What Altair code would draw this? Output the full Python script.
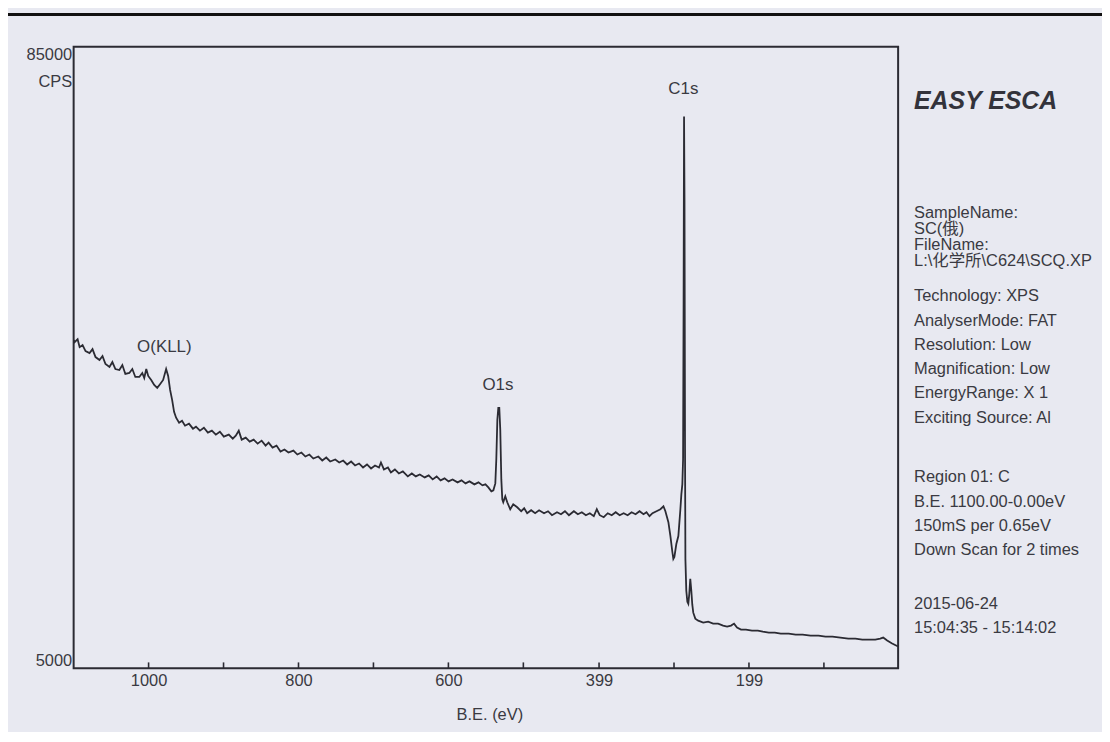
import altair as alt
import pandas as pd

# ---- spectrum (binding energy eV, counts per second) ----
o_kll_region = [
    (1100, 47240), (1098.7, 46984), (1094.7, 47368), (1092.0, 46344), (1088.1, 46600),
    (1084.1, 45832), (1078.8, 45576), (1074.8, 46088), (1070.8, 45064), (1065.5, 44680),
    (1061.5, 45192), (1057.5, 44168), (1052.2, 43784), (1048.3, 44424), (1044.3, 43528),
    (1039.0, 43400), (1035.0, 44040), (1031.0, 42888), (1025.7, 43016), (1021.7, 43528),
    (1017.7, 42504), (1012.4, 42504), (1008.4, 43016), (1005.8, 42376), (1003.1, 43528),
    (1000.5, 42632), (996.5, 42120), (992.5, 41480), (988.5, 41096), (984.5, 41608),
    (980.6, 42120), (976.6, 43528), (973.9, 42632), (971.3, 40840), (968.6, 39560),
    (966.0, 38024), (963.3, 37256), (959.3, 36616), (955.4, 36872), (951.4, 36232),
    (946.1, 36488), (940.8, 35848), (936.8, 36104), (931.5, 35592), (926.2, 35976),
    (920.9, 35336), (915.6, 35592), (910.3, 35080), (904.9, 35464), (899.6, 34824),
    (893.0, 35080), (887.7, 34568), (883.7, 34952), (879.7, 35592), (875.8, 34440),
    (870.4, 34696), (865.1, 34184), (859.8, 34440), (854.5, 33928), (849.2, 34312),
    (843.9, 33672), (839.9, 34056), (834.6, 33416), (829.3, 33672), (824.0, 32904),
    (818.7, 33160), (813.4, 32776), (806.8, 33032), (801.5, 32520), (796.1, 32776),
    (790.8, 32264), (785.5, 32520), (780.2, 32008), (773.6, 32264), (768.3, 31752),
    (763.0, 32136), (757.7, 31624), (751.0, 31880), (745.7, 31496), (740.4, 31752),
    (735.1, 31240), (729.8, 31624), (724.5, 31112), (719.2, 31368), (713.9, 30856),
    (708.6, 31240),
]
mid_region = [
    (703.2, 30728), (697.9, 31112), (692.6, 30856), (690.0, 31496), (686.0, 30600),
    (680.7, 30856), (676.7, 30216), (671.4, 30600), (666.1, 30088), (660.8, 30344),
    (654.2, 29704), (648.8, 30088), (643.5, 29704), (638.2, 29960), (631.6, 29576),
    (626.3, 29832), (621.0, 29320), (615.7, 29704), (610.4, 29192), (605.1, 29448),
    (599.8, 29064), (594.4, 29320), (587.8, 28936), (582.5, 29192), (577.2, 28808),
    (571.9, 29064), (565.3, 28680), (559.9, 28936), (554.6, 28552), (550.6, 28680),
    (546.7, 28296), (542.7, 27784), (540.0, 27912),
]
o1s_region = [
    (537.4, 28808), (536.1, 31880), (534.7, 37000), (533.4, 38536), (532.1, 38536),
    (530.8, 35720), (529.4, 29320), (528.1, 26760), (526.8, 26376), (524.1, 27144),
    (521.5, 26376), (517.5, 25480), (513.5, 26120), (508.2, 25736), (502.9, 25224),
    (498.9, 25608), (494.9, 24968), (489.6, 25352), (484.3, 24968), (479.0, 25352),
    (472.4, 24968), (467.1, 25224), (461.8, 24712), (455.1, 25096), (449.8, 24840),
    (444.5, 25224), (439.2, 24712), (432.6, 25224), (427.3, 24840), (422.0, 25096),
    (416.6, 24712), (411.3, 24968), (406.0, 24584), (402.0, 25480), (398.1, 24712),
    (392.8, 24456), (387.4, 24968), (382.1, 24712), (376.8, 25096), (371.5, 24712),
    (366.2, 24968), (360.9, 24712), (355.6, 25096), (350.3, 24840), (345.0, 25224),
    (339.7, 24840), (335.7, 25096), (331.7, 24584), (327.7, 24968), (322.4, 25224),
    (317.1, 25480), (313.1, 25864), (310.5, 25224),
]
c1s_region = [
    (306.5, 23816), (303.8, 22024), (301.2, 19976), (299.9, 19080), (298.5, 19336),
    (295.9, 21000), (293.2, 22024), (290.5, 25480), (289.2, 27400), (287.9, 28680),
    (286.9, 31880), (286.2, 52360), (285.6, 76040), (285.0, 65160), (284.3, 33160),
    (283.8, 19080), (282.6, 14984), (281.2, 13576), (279.9, 13320), (278.6, 14600),
    (277.3, 16520), (275.9, 14984), (274.6, 13192), (273.3, 12168), (270.6, 11400),
    (266.7, 11144),
]
low_region = [
    (260.0, 10888), (253.4, 11016), (246.8, 10760), (240.2, 10760), (233.5, 10504),
    (228.2, 10376), (222.9, 10504), (218.9, 10760), (214.9, 10248), (209.6, 9992),
    (203.0, 9992), (195.0, 9864), (187.1, 9864), (180.5, 9736), (172.5, 9608),
    (164.5, 9608), (156.6, 9480), (146.0, 9480), (136.7, 9352), (127.4, 9352),
    (116.8, 9224), (106.2, 9224), (96.9, 9096), (87.6, 9096), (77.0, 8968),
    (66.4, 8840), (57.0, 8840), (47.8, 8712), (39.8, 8712), (30.5, 8712),
    (23.9, 8840), (19.9, 8968), (14.6, 8584), (8.0, 8200), (0, 7816),
]

tick_values = [1000, 900, 800, 700, 600, 500, 399, 299, 199, 99]
label_values = [1000, 800, 600, 399, 199]
y_label_values = [5000, 85000]

peak_names = ["O(KLL)", "O1s", "C1s"]
peak_label_ev = [979, 534, 286.5]
peak_label_cps = [46300, 41500, 79500]

info_title = "EASY ESCA"
info_sample = ["SampleName:", "SC(俄)", "FileName:", "L:\\化学所\\C624\\SCQ.XP"]
info_setup = ["Technology: XPS", "AnalyserMode: FAT", "Resolution: Low",
              "Magnification: Low", "EnergyRange: X 1", "Exciting Source: Al"]
info_region = ["Region 01: C", "B.E. 1100.00-0.00eV", "150mS per 0.65eV",
               "Down Scan for 2 times"]
info_date = ["2015-06-24", "15:04:35 - 15:14:02"]

# ---- build tables ----
points = o_kll_region + mid_region + o1s_region + c1s_region + low_region
spec = pd.DataFrame(points, columns=["be", "cps"])
ticks_df = pd.DataFrame({"t": tick_values})
peaks_df = pd.DataFrame({"name": peak_names, "be": peak_label_ev, "cps": peak_label_cps})
one_row = pd.DataFrame({"k": [0]})

W, H = 829, 625
FONT = "Liberation Sans, Arial, Noto Sans CJK SC, sans-serif"
INK = "#2b2b33"
TXT = "#3a3a42"

xscale = alt.Scale(domain=[0, 1100], reverse=True, nice=False, zero=False)
yscale = alt.Scale(domain=[5000, 85000], nice=False, zero=False)

line = alt.Chart(spec).mark_line(color=INK, strokeWidth=1.8).encode(
    x=alt.X("be:Q", scale=xscale,
            axis=alt.Axis(values=label_values, format="d", title="B.E. (eV)", ticks=False,
                          domain=False, grid=False, labelFontSize=16.5, labelPadding=4,
                          labelColor=TXT, labelFont=FONT, titleFont=FONT, titleFontSize=16.5,
                          titleFontWeight="normal", titleColor=TXT, titleX=418, titleY=46,
                          titleBaseline="middle", titleAlign="center")),
    y=alt.Y("cps:Q", scale=yscale,
            axis=alt.Axis(values=y_label_values, format="d", labelFlush=True, ticks=False,
                          domain=False, grid=False, labelFontSize=16.5, labelPadding=2,
                          labelColor=TXT, labelFont=FONT, title="CPS", titleAngle=0,
                          titleAlign="right", titleBaseline="middle", titleX=-2, titleY=35,
                          titleFont=FONT, titleFontSize=16.5, titleFontWeight="normal",
                          titleColor=TXT)),
)

tick_marks = alt.Chart(ticks_df).mark_rule(color=INK, strokeWidth=1.6).encode(
    x=alt.X("t:Q", scale=xscale), y=alt.value(H), y2=alt.value(H - 6)
)

peak_text = alt.Chart(peaks_df).mark_text(
    font=FONT, fontSize=17, color=TXT, align="center", baseline="middle"
).encode(x=alt.X("be:Q", scale=xscale), y=alt.Y("cps:Q", scale=yscale), text="name:N")

top_rule = alt.Chart(one_row).mark_rule(color="#111111", strokeWidth=3).encode(
    x=alt.value(-70), x2=alt.value(W + 210), y=alt.value(-32.5)
)

px = W + 16
title_txt = alt.Chart(one_row).mark_text(
    font=FONT, fontSize=25, fontWeight="bold", fontStyle="italic", color="#33333b",
    align="left", baseline="alphabetic"
).encode(x=alt.value(px), y=alt.value(63), text=alt.value(info_title))


def block(lines, y0, lh):
    return alt.Chart(one_row).mark_text(
        font=FONT, fontSize=16.5, fontWeight="normal", color=TXT, align="left",
        baseline="alphabetic", lineHeight=lh
    ).encode(x=alt.value(px), y=alt.value(y0), text=alt.value(lines))


chart = alt.layer(
    top_rule, line, tick_marks, peak_text, title_txt,
    block(info_sample, 172, 16.3),
    block(info_setup, 256, 24.4),
    block(info_region, 438, 24.3),
    block(info_date, 565, 24.0),
).properties(
    width=W, height=H,
    autosize=alt.AutoSizeParams(type="none"),
    padding={"left": 66, "top": 37, "right": 205, "bottom": 62},
    background="#e8e9f1",
).configure_view(stroke=INK, strokeWidth=2)

chart.save("out.html", embed_options={"renderer": "svg", "actions": False})
